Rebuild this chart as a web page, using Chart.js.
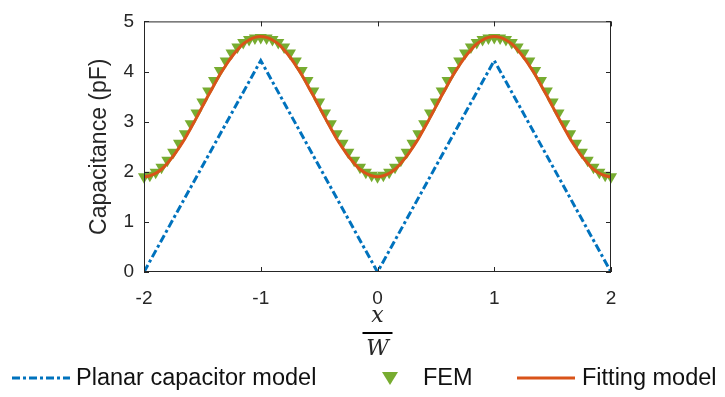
<!DOCTYPE html>
<html>
<head>
<meta charset="utf-8">
<script src="https://cdn.jsdelivr.net/npm/chart.js@4/dist/chart.umd.min.js"></script>
<style>
  html, body { margin: 0; padding: 0; background: #fff; }
  #wrap { width: 725px; height: 397px; position: relative; }
</style>
</head>
<body>
<div id="wrap"><canvas id="chart" width="725" height="397"></canvas></div>
<script>
// x / W positions
const xValues = [
  -2.00, -1.95, -1.90, -1.85, -1.80, -1.75, -1.70, -1.65, -1.60, -1.55, -1.50,
  -1.45, -1.40, -1.35, -1.30, -1.25, -1.20, -1.15, -1.10, -1.05, -1.00,
  -0.95, -0.90, -0.85, -0.80, -0.75, -0.70, -0.65, -0.60, -0.55, -0.50,
  -0.45, -0.40, -0.35, -0.30, -0.25, -0.20, -0.15, -0.10, -0.05, 0.00,
  0.05, 0.10, 0.15, 0.20, 0.25, 0.30, 0.35, 0.40, 0.45, 0.50,
  0.55, 0.60, 0.65, 0.70, 0.75, 0.80, 0.85, 0.90, 0.95, 1.00,
  1.05, 1.10, 1.15, 1.20, 1.25, 1.30, 1.35, 1.40, 1.45, 1.50,
  1.55, 1.60, 1.65, 1.70, 1.75, 1.80, 1.85, 1.90, 1.95, 2.00
];

const femValues = [
  1.90, 1.93, 1.99, 2.09, 2.23, 2.39, 2.57, 2.76, 2.96, 3.17, 3.39,
  3.61, 3.82, 4.02, 4.21, 4.37, 4.49, 4.58, 4.64, 4.67, 4.68,
  4.67, 4.64, 4.58, 4.49, 4.37, 4.21, 4.02, 3.82, 3.61, 3.39,
  3.17, 2.96, 2.76, 2.57, 2.39, 2.23, 2.09, 1.99, 1.93, 1.90,
  1.93, 1.99, 2.09, 2.23, 2.39, 2.57, 2.76, 2.96, 3.17, 3.39,
  3.61, 3.82, 4.02, 4.21, 4.37, 4.49, 4.58, 4.64, 4.67, 4.68,
  4.67, 4.64, 4.58, 4.49, 4.37, 4.21, 4.02, 3.82, 3.61, 3.39,
  3.17, 2.96, 2.76, 2.57, 2.39, 2.23, 2.09, 1.99, 1.93, 1.90
];

const fitValues = [
  1.90, 1.92, 1.97, 2.05, 2.17, 2.31, 2.48, 2.66, 2.87, 3.08, 3.30,
  3.52, 3.73, 3.94, 4.12, 4.29, 4.43, 4.55, 4.63, 4.68, 4.70,
  4.68, 4.63, 4.55, 4.43, 4.29, 4.12, 3.94, 3.73, 3.52, 3.30,
  3.08, 2.87, 2.66, 2.48, 2.31, 2.17, 2.05, 1.97, 1.92, 1.90,
  1.92, 1.97, 2.05, 2.17, 2.31, 2.48, 2.66, 2.87, 3.08, 3.30,
  3.52, 3.73, 3.94, 4.12, 4.29, 4.43, 4.55, 4.63, 4.68, 4.70,
  4.68, 4.63, 4.55, 4.43, 4.29, 4.12, 3.94, 3.73, 3.52, 3.30,
  3.08, 2.87, 2.66, 2.48, 2.31, 2.17, 2.05, 1.97, 1.92, 1.90
];

const planarX = [-2, -1, 0, 1, 2];
const planarValues = [0, 4.22, 0, 4.22, 0];

const xTicks = [-2, -1, 0, 1, 2];
const yTicks = [0, 1, 2, 3, 4, 5];

const BLUE = '#0072BD';
const ORANGE = '#D95319';
const GREEN = '#77AC30';
const AXIS = '#262626';
const FONT = '"Liberation Sans", Arial, Helvetica, sans-serif';

function pts(xs, ys) {
  return xs.map((x, i) => ({ x: x, y: ys[i] }));
}

// frame with inward ticks, like the original box
const framePlugin = {
  id: 'frame',
  afterDatasetsDraw(chart) {
    const ctx = chart.ctx;
    const a = chart.chartArea;
    const xs = chart.scales.x, ys = chart.scales.y;
    ctx.save();
    ctx.strokeStyle = AXIS;
    ctx.lineWidth = 1;
    ctx.strokeRect(a.left + 0.5, a.top + 0.5, a.right - a.left - 1, a.bottom - a.top - 1);
    const len = 5;
    ctx.beginPath();
    xTicks.forEach(v => {
      const p = Math.round(xs.getPixelForValue(v)) + 0.5;
      ctx.moveTo(p, a.bottom); ctx.lineTo(p, a.bottom - len);
      ctx.moveTo(p, a.top); ctx.lineTo(p, a.top + len);
    });
    yTicks.forEach(v => {
      const p = Math.round(ys.getPixelForValue(v)) + 0.5;
      ctx.moveTo(a.left, p); ctx.lineTo(a.left + len, p);
      ctx.moveTo(a.right, p); ctx.lineTo(a.right - len, p);
    });
    ctx.stroke();
    ctx.restore();
  }
};

// x/W label and the legend row under the chart
const extrasPlugin = {
  id: 'extras',
  afterDraw(chart) {
    const ctx = chart.ctx;
    const cx = chart.scales.x.getPixelForValue(0);
    ctx.save();
    ctx.fillStyle = AXIS;
    ctx.textAlign = 'center';
    ctx.textBaseline = 'alphabetic';
    ctx.font = 'italic 22px "DejaVu Serif", "Liberation Serif", serif';
    ctx.fillText('x', cx, 322);
    ctx.fillStyle = '#000';
    ctx.fillRect(cx - 15, 332, 30, 2);
    ctx.fillStyle = AXIS;
    ctx.fillText('W', cx, 355);

    // legend
    const ly = 378;
    ctx.lineWidth = 3;
    ctx.strokeStyle = BLUE;
    ctx.setLineDash([8, 3, 3, 3]);
    ctx.beginPath(); ctx.moveTo(12, ly); ctx.lineTo(70, ly); ctx.stroke();
    ctx.setLineDash([]);
    ctx.strokeStyle = ORANGE;
    ctx.beginPath(); ctx.moveTo(517, ly); ctx.lineTo(575, ly); ctx.stroke();

    ctx.fillStyle = GREEN;
    ctx.beginPath();
    ctx.moveTo(382, ly - 6); ctx.lineTo(398, ly - 6); ctx.lineTo(390, ly + 7);
    ctx.closePath(); ctx.fill();

    ctx.fillStyle = '#111';
    ctx.textAlign = 'left';
    ctx.textBaseline = 'middle';
    ctx.font = '23.5px ' + FONT;
    ctx.fillText('Planar capacitor model', 76, ly + 1);
    ctx.fillText('FEM', 423, ly + 1);
    ctx.fillText('Fitting model', 582, ly + 1);
    ctx.restore();
  }
};

new Chart(document.getElementById('chart'), {
  type: 'scatter',
  data: {
    datasets: [
      {
        label: 'Fitting model',
        type: 'line',
        data: pts(xValues, fitValues),
        borderColor: ORANGE,
        borderWidth: 3,
        pointRadius: 0,
        tension: 0.4,
        fill: false,
        order: 0
      },
      {
        label: 'FEM',
        data: pts(xValues, femValues),
        backgroundColor: GREEN,
        borderColor: GREEN,
        pointStyle: 'triangle',
        rotation: 180,
        pointRadius: 7,
        borderWidth: 0,
        clip: false,
        order: 1
      },
      {
        label: 'Planar capacitor model',
        type: 'line',
        data: pts(planarX, planarValues),
        borderColor: BLUE,
        borderWidth: 3,
        borderDash: [8, 3, 3, 3],
        pointRadius: 0,
        tension: 0,
        fill: false,
        order: 2
      }
    ]
  },
  options: {
    responsive: false,
    animation: false,
    layout: { padding: { left: 86, top: 8, right: 114, bottom: 0 } },
    plugins: {
      legend: { display: false },
      tooltip: { enabled: false }
    },
    scales: {
      x: {
        type: 'linear',
        min: -2,
        max: 2,
        afterBuildTicks: s => { s.ticks = xTicks.map(v => ({ value: v })); },
        afterFit: s => { s.height = 125; },
        grid: { display: false, drawTicks: false },
        border: { display: false },
        ticks: {
          padding: 15,
          color: AXIS,
          font: { family: FONT, size: 19 }
        }
      },
      y: {
        min: 0,
        max: 5,
        afterBuildTicks: s => { s.ticks = yTicks.map(v => ({ value: v })); },
        afterFit: s => { s.width = 58; },
        grid: { display: false, drawTicks: false },
        border: { display: false },
        title: {
          display: true,
          text: 'Capacitance (pF)',
          color: AXIS,
          padding: { top: 0, bottom: 0 },
          font: { family: FONT, size: 23 }
        },
        ticks: {
          padding: 10,
          color: AXIS,
          font: { family: FONT, size: 19 }
        }
      }
    }
  },
  plugins: [framePlugin, extrasPlugin]
});
</script>
</body>
</html>
